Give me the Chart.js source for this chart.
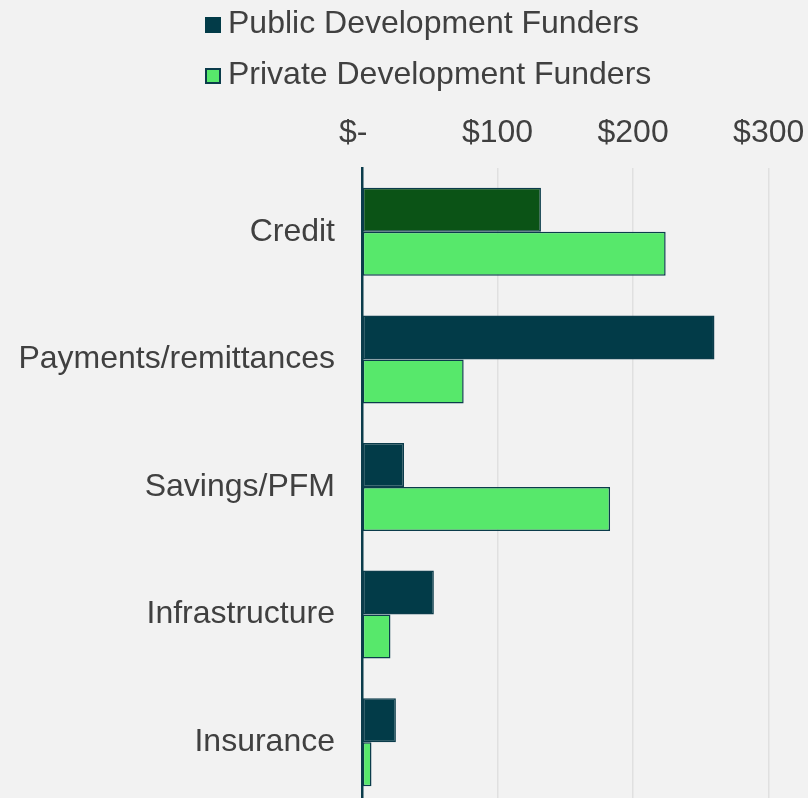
<!DOCTYPE html>
<html>
<head>
<meta charset="utf-8">
<script src="https://cdn.jsdelivr.net/npm/chart.js@4"></script>
<style>
  html, body { margin: 0; padding: 0; background: #f2f2f2; overflow: hidden; }
  body { width: 808px; height: 798px; font-family: 'Liberation Sans', Arial, sans-serif; }
  #wrap { position: relative; width: 808px; height: 806px; }
  #legend { position: absolute; left: 0; top: 0; width: 808px; height: 100px; z-index: 2; }
  .lg-box { position: absolute; left: 205px; width: 16px; height: 16px; box-sizing: border-box; }
  .lg-text { position: absolute; left: 228px; font-size: 32px; line-height: 32px; color: #404040; white-space: nowrap; }
</style>
</head>
<body>
<div id="wrap">
  <div id="legend"></div>
  <canvas id="chart"></canvas>
</div>
<script>
// chart data
const categories = ['Credit', 'Payments/remittances', 'Savings/PFM', 'Infrastructure', 'Insurance'];
const publicFunders = [132, 260, 31, 53, 25];
const privateFunders = [224, 75, 183, 21, 7];
const tickValues = [0, 100, 200, 300];
const tickLabels = ['$-  ', '$100', '$200', '$300'];

const teal = '#023b48';
const edge = '#0b3c4b';
const green = '#57e86b';
const creditGreen = '#0b5316';
const font = "'Liberation Sans', Arial, sans-serif";

const ctx = document.getElementById('chart').getContext('2d');
const chart = new Chart(ctx, {
    type: 'bar',
    data: {
        labels: categories,
        datasets: [{
            label: 'Public Development Funders',
            data: publicFunders,
            backgroundColor: publicFunders.map((v, i) => i === 0 ? creditGreen : teal),
            borderColor: edge,
            borderWidth: 1.5,
            borderSkipped: false
        }, {
            label: 'Private Development Funders',
            data: privateFunders,
            backgroundColor: green,
            borderColor: edge,
            borderWidth: 1.5,
            borderSkipped: false
        }]
    },
    options: {
        indexAxis: 'y',
        responsive: true,
        maintainAspectRatio: false,
        animation: false,
        layout: { padding: 0 },
        datasets: {
            bar: { barPercentage: 1, categoryPercentage: 0.69 }
        },
        plugins: {
            legend: { display: false },
            tooltip: { enabled: false }
        },
        scales: {
            x: {
                position: 'top',
                min: 0,
                max: 329,
                afterBuildTicks: scale => {
                    scale.ticks = tickValues.map(v => ({ value: v }));
                },
                afterFit: scale => {
                    scale.height = 168;
                    scale.paddingLeft = 0;
                    scale.paddingRight = 0;
                },
                ticks: {
                    padding: 16,
                    color: '#404040',
                    font: { family: font, size: 32 },
                    callback: (value) => tickLabels[tickValues.indexOf(value)]
                },
                grid: {
                    drawTicks: false,
                    lineWidth: 1.5,
                    color: c => c.tick && c.tick.value === 0 ? 'rgba(0,0,0,0)' : '#e0e0e0'
                },
                border: { display: false }
            },
            y: {
                afterFit: scale => {
                    scale.width = 362;
                    scale.paddingTop = 0;
                    scale.paddingBottom = 0;
                },
                ticks: {
                    padding: 27,
                    color: '#404040',
                    font: { family: font, size: 32 }
                },
                grid: { display: false, drawTicks: false },
                border: { display: true, color: edge, width: 2.5 }
            }
        }
    }
});

// legend built from the datasets
const legendDiv = document.getElementById('legend');
chart.data.datasets.forEach((ds, i) => {
    const top = 6 + i * 51;
    const box = document.createElement('div');
    box.className = 'lg-box';
    box.style.top = (top + 11) + 'px';
    box.style.background = i === 0 ? teal : green;
    box.style.border = i === 0 ? 'none' : '2px solid ' + edge;
    legendDiv.appendChild(box);
    const txt = document.createElement('div');
    txt.className = 'lg-text';
    txt.style.top = top + 'px';
    txt.textContent = ds.label;
    legendDiv.appendChild(txt);
});
</script>
</body>
</html>
